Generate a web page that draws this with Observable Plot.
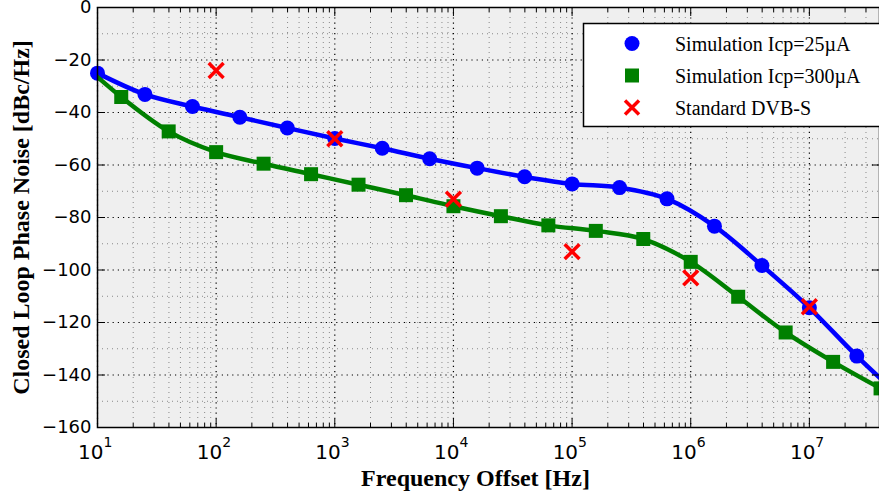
<!DOCTYPE html>
<html>
<head>
<meta charset="utf-8">
<script src="https://cdn.jsdelivr.net/npm/d3@7"></script>
<script src="https://cdn.jsdelivr.net/npm/@observablehq/plot@0.6"></script>
<style>
  html, body { margin: 0; padding: 0; background: #fff; }
  #chart { width: 879px; height: 497px; overflow: hidden; }
</style>
</head>
<body>
<div id="chart"></div>
<script>
// ---- data ----
const blueF = [10, 25.12, 63.1, 158.5, 398.1, 1000, 2512, 6310, 15850, 39810, 1e5, 2.512e5, 6.31e5, 1.585e6, 3.981e6, 1e7, 2.512e7];
const blueV = [-25, -33.1, -37.7, -41.8, -45.9, -49.9, -53.6, -57.6, -61.2, -64.5, -67.2, -68.6, -72.9, -83.3, -98.3, -114.4, -132.8];
const blueEndF = 3.9e7;
const blueEndV = -141;
const greenF = [15.85, 39.81, 100, 251.2, 631, 1585, 3981, 1e4, 2.512e4, 6.31e4, 1.585e5, 3.981e5, 1e6, 2.512e6, 6.31e6, 1.585e7, 3.981e7];
const greenV = [-34.1, -47.2, -55.1, -59.5, -63.5, -67.5, -71.5, -75.7, -79.5, -83.0, -85.1, -88.2, -96.9, -110.2, -123.8, -135.0, -145.1];
const greenStartF = 10;
const greenStartV = -26.5;
const dvbF = [100, 1e3, 1e4, 1e5, 1e6, 1e7];
const dvbV = [-24, -50, -73, -93, -103, -114];
const xExponents = [1, 2, 3, 4, 5, 6, 7];
const yTicks = [-160, -140, -120, -100, -80, -60, -40, -20, 0];
const yMinor = [-150, -130, -110, -90, -70, -50, -30, -10];
const seriesNames = ["Simulation Icp=25\u00b5A", "Simulation Icp=300\u00b5A", "Standard DVB-S"];
const xLabel = "Frequency Offset [Hz]";
const yLabel = "Closed Loop Phase Noise [dBc/Hz]";

// ---- derived tables ----
const blueMarks = blueF.map((f, i) => ({f, v: blueV[i]}));
const blueLine = [...blueMarks, {f: blueEndF, v: blueEndV}];
const greenMarks = greenF.map((f, i) => ({f, v: greenV[i]}));
const greenLine = [{f: greenStartF, v: greenStartV}, ...greenMarks];
const dvb = dvbF.map((f, i) => ({f, v: dvbV[i]}));
const xMajor = xExponents.map(e => Math.pow(10, e));
const xMinor = [];
for (let e = 1; e <= 7; e++) for (let m = 2; m <= 9; m++) { const v = m * Math.pow(10, e); if (v <= 3.9e7) xMinor.push(v); }

const tickFont = "DejaVu Sans, sans-serif";
const serif = "Liberation Serif, 'Times New Roman', serif";

const plot = Plot.plot({
  width: 879,
  height: 497,
  marginLeft: 97,
  marginRight: 0,
  marginTop: 7,
  marginBottom: 70,
  style: {background: "white", fontFamily: tickFont},
  x: {type: "log", domain: [10, 3.9e7]},
  y: {domain: [-160, 0]},
  marks: [
    Plot.frame({fill: "#efefef", stroke: "none"}),
    Plot.ruleY(yMinor, {stroke: "#888", strokeWidth: 1, strokeDasharray: "1,4"}),
    Plot.ruleY(yTicks, {stroke: "#000", strokeWidth: 1.2, strokeDasharray: "1.2,4"}),
    Plot.ruleX(xMinor, {stroke: "#888", strokeWidth: 1, strokeDasharray: "1,4"}),
    Plot.ruleX(xMajor, {stroke: "#000", strokeWidth: 1.2, strokeDasharray: "1.2,4"}),
    Plot.line(blueLine, {x: "f", y: "v", stroke: "#0000ff", strokeWidth: 4.5, curve: "monotone-x", clip: "frame"}),
    Plot.dot(blueMarks, {x: "f", y: "v", r: 7.5, fill: "#0000ff", symbol: "circle"}),
    Plot.line(greenLine, {x: "f", y: "v", stroke: "#008000", strokeWidth: 4.5, curve: "monotone-x", clip: "frame"}),
    Plot.dot(greenMarks, {x: "f", y: "v", r: 7.9, fill: "#008000", symbol: "square"}),
    Plot.dot(dvb, {x: "f", y: "v", r: 6.8, stroke: "#ff0000", strokeWidth: 3.5, symbol: "times"}),
    Plot.frame({stroke: "#000", strokeWidth: 1.5}),
    Plot.axisY(yTicks, {anchor: "left", tickSize: -8, tickPadding: 14, fontSize: 18, fontFamily: tickFont, label: null, tickFormat: d => d === 0 ? "0" : "\u2212" + Math.abs(d)}),
    Plot.axisY(yTicks, {anchor: "right", tickSize: -8, tickFormat: () => "", label: null}),
    Plot.axisX(xMajor, {anchor: "bottom", tickSize: -8, tickFormat: () => "", label: null}),
    Plot.axisX(xMinor, {anchor: "bottom", tickSize: -4, tickFormat: () => "", label: null}),
    Plot.axisX(xMajor, {anchor: "top", tickSize: -8, tickFormat: () => "", label: null}),
    Plot.axisX(xMinor, {anchor: "top", tickSize: -4, tickFormat: () => "", label: null}),
    Plot.text(xMajor, {x: d => d, frameAnchor: "bottom", lineAnchor: "middle", text: () => "10", textAnchor: "end", dx: 6, dy: 25, fontSize: 20, fontFamily: tickFont, fill: "#000"}),
    Plot.text(xExponents, {x: d => Math.pow(10, d), frameAnchor: "bottom", lineAnchor: "middle", text: d => String(d), textAnchor: "start", dx: 6, dy: 15, fontSize: 14, fontFamily: tickFont, fill: "#000"}),
    Plot.text([xLabel], {frameAnchor: "bottom", lineAnchor: "middle", textAnchor: "middle", text: d => d, dx: -13, dy: 51, fontSize: 24, fontWeight: "bold", fontFamily: serif, fill: "#000"}),
    Plot.text([yLabel], {frameAnchor: "left", lineAnchor: "middle", textAnchor: "middle", text: d => d, rotate: -90, dx: -76, dy: 0, fontSize: 24, fontWeight: "bold", fontFamily: serif, fill: "#000"})
  ]
});

document.getElementById("chart").appendChild(plot);

// ---- legend (inside plot area, upper right) ----
const svg = d3.select(plot);
const lg = svg.append("g").attr("class", "legend").attr("text-anchor", "start");
lg.append("rect").attr("x", 583.5).attr("y", 23.5).attr("width", 300).attr("height", 103)
  .attr("fill", "#fff").attr("stroke", "#000").attr("stroke-width", 1.5);
const rowsY = [43.5, 75.5, 107.5];
const mx = 632;
lg.append("circle").attr("cx", mx).attr("cy", rowsY[0]).attr("r", 7.5).attr("fill", "#0000ff");
lg.append("rect").attr("x", mx - 7).attr("y", rowsY[1] - 7).attr("width", 14).attr("height", 14).attr("fill", "#008000");
lg.append("path").attr("d", `M${mx - 7},${rowsY[2] - 7}L${mx + 7},${rowsY[2] + 7}M${mx - 7},${rowsY[2] + 7}L${mx + 7},${rowsY[2] - 7}`)
  .attr("stroke", "#ff0000").attr("stroke-width", 3.5).attr("fill", "none");
seriesNames.forEach((name, i) => {
  lg.append("text").attr("x", 675).attr("y", rowsY[i]).attr("dy", "0.35em").attr("text-anchor", "start")
    .attr("font-family", serif).attr("font-size", 20).attr("fill", "#000").text(name);
});
</script>
</body>
</html>
